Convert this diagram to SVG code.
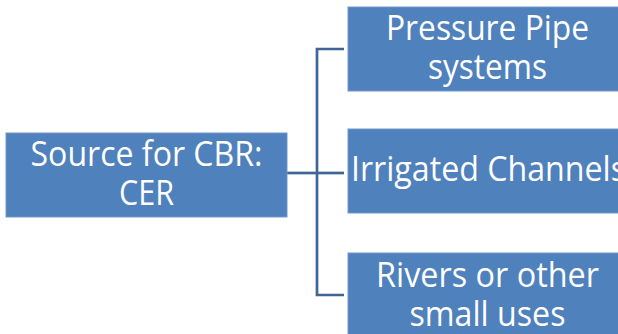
<svg xmlns="http://www.w3.org/2000/svg" width="618" height="334" viewBox="0 0 618 334">
  <style>
    .box { fill: #4f81bd; stroke: #7197cb; stroke-width: 1; }
    .lbl { fill: #ffffff; font-family: "Open Sans", "Noto Sans", sans-serif; font-size: 35px; text-anchor: middle; }
    .lbl-l { fill: #ffffff; font-family: "Open Sans", "Noto Sans", sans-serif; font-size: 35px; }
    .wire { fill: none; stroke: #3f6594; stroke-width: 2.7; }
  </style>
  <rect width="618" height="334" fill="#ffffff"/>

  <!-- tree connectors -->
  <g id="connectors">
    <path class="wire" d="M287 173 H317"/>
    <path class="wire" d="M344 49 H317 V295 H344"/>
    <path class="wire" d="M317 173 H344"/>
  </g>

  <g id="root">
    <rect class="box" x="6" y="133" width="281" height="84"/>
    <text class="lbl" x="146.5" y="166" textLength="232" lengthAdjust="spacingAndGlyphs">Source for CBR:</text>
    <text class="lbl" x="146.5" y="205" textLength="55" lengthAdjust="spacingAndGlyphs">CER</text>
  </g>

  <g id="pressure-pipe">
    <rect class="box" x="348" y="7" width="281" height="84"/>
    <text class="lbl" x="487.5" y="40" textLength="203" lengthAdjust="spacingAndGlyphs">Pressure Pipe</text>
    <text class="lbl" x="487.5" y="79" textLength="119" lengthAdjust="spacingAndGlyphs">systems</text>
  </g>

  <g id="irrigated-channels">
    <rect class="box" x="348" y="129" width="281" height="84"/>
    <text class="lbl-l" x="351" y="181" textLength="275" lengthAdjust="spacingAndGlyphs">Irrigated Channels</text>
  </g>

  <g id="rivers">
    <rect class="box" x="348" y="253" width="281" height="84"/>
    <text class="lbl" x="487.5" y="287" textLength="223" lengthAdjust="spacingAndGlyphs">Rivers or other</text>
    <text class="lbl" x="487.5" y="326" textLength="156" lengthAdjust="spacingAndGlyphs">small uses</text>
  </g>
</svg>
